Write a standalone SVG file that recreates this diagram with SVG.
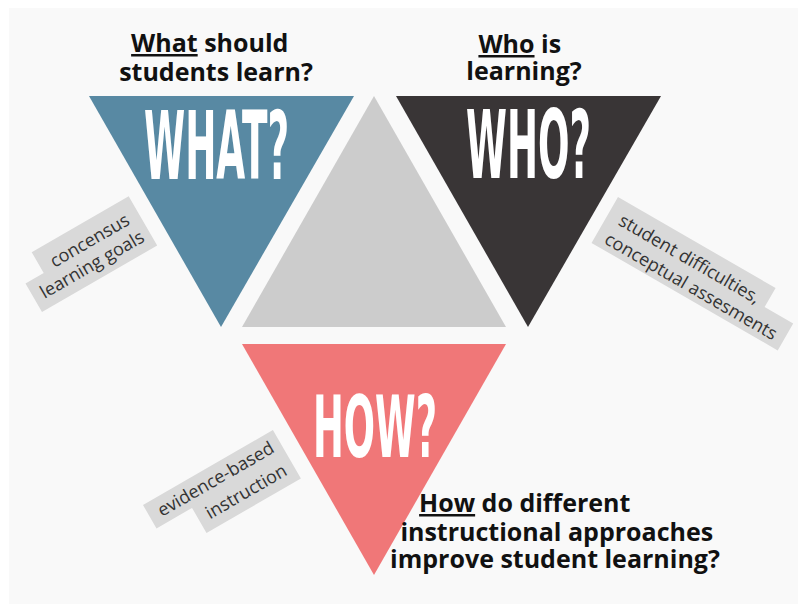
<svg xmlns="http://www.w3.org/2000/svg" width="798" height="604" viewBox="0 0 798 604">
  <style>
    .big { font-family: "DejaVu Sans Condensed", "Liberation Sans", Roboto, sans-serif; font-weight: bold; fill: #ffffff; }
    .head { font-family: "Open Sans", "Noto Sans", "Liberation Sans", sans-serif; font-weight: bold; font-size: 25px; fill: #111111; }
    .lbl { font-family: "Open Sans", "Noto Sans", "Liberation Sans", sans-serif; font-size: 18px; fill: #333333; text-anchor: middle; }
    .box { fill: #d9d9d9; }
    .u { text-decoration: underline; }
  </style>
  <rect x="0" y="0" width="798" height="604" fill="#ffffff"/>
  <rect x="9" y="8" width="789" height="596" fill="#f9f9f9"/>

  <g id="center">
    <polygon points="374,96 242,327 506,327" fill="#cccccc"/>
  </g>

  <g id="what">
    <polygon points="89,96 354,96 221,327" fill="#5889a3"/>
    <text class="big" x="144" y="179" font-size="95" textLength="145" lengthAdjust="spacingAndGlyphs">WHAT?</text>
    <text class="head" text-anchor="middle">
      <tspan x="213" y="52"><tspan class="u">What</tspan> should</tspan>
      <tspan x="216" y="81">students learn?</tspan>
    </text>
  </g>

  <g id="who">
    <polygon points="396,96 661,96 528,327" fill="#393536"/>
    <text class="big" x="466" y="178" font-size="94" textLength="125" lengthAdjust="spacingAndGlyphs">WHO?</text>
    <text class="head" text-anchor="middle">
      <tspan x="523" y="53"><tspan class="u">Who</tspan> is</tspan>
      <tspan x="524" y="80">learning?</tspan>
    </text>
  </g>

  <g id="how">
    <polygon points="242,344 506,344 374,575" fill="#f07778"/>
    <text class="big" x="313" y="457" font-size="86" textLength="124" lengthAdjust="spacingAndGlyphs">HOW?</text>
    <text class="head" text-anchor="middle">
      <tspan x="528" y="512"><tspan class="u">How</tspan> do different</tspan>
      <tspan x="560" y="541">instructional approaches</tspan>
      <tspan x="555" y="568">improve student learning?</tspan>
    </text>
  </g>

  <g id="label-goals" transform="translate(42,312) rotate(-30)">
    <polygon class="box" points="21,-57 133,-57 133,0 0,0 0,-33 21,-33"/>
    <text class="lbl" x="77" y="-32">concensus</text>
    <text class="lbl" x="67" y="-10">learning goals</text>
  </g>

  <g id="label-difficulties" transform="translate(618,197) rotate(30)">
    <polygon class="box" points="0,0 182,0 182,22 215,22 215,53 0,53"/>
    <text class="lbl" x="93" y="24">student difficulties,</text>
    <text class="lbl" x="108" y="47">conceptual assesments</text>
  </g>

  <g id="label-evidence" transform="translate(143,505) rotate(-30)">
    <polygon class="box" points="0,0 150,0 150,56 41,56 41,27 0,27"/>
    <text class="lbl" x="76" y="20">evidence-based</text>
    <text class="lbl" x="96" y="46">instruction</text>
  </g>
</svg>
